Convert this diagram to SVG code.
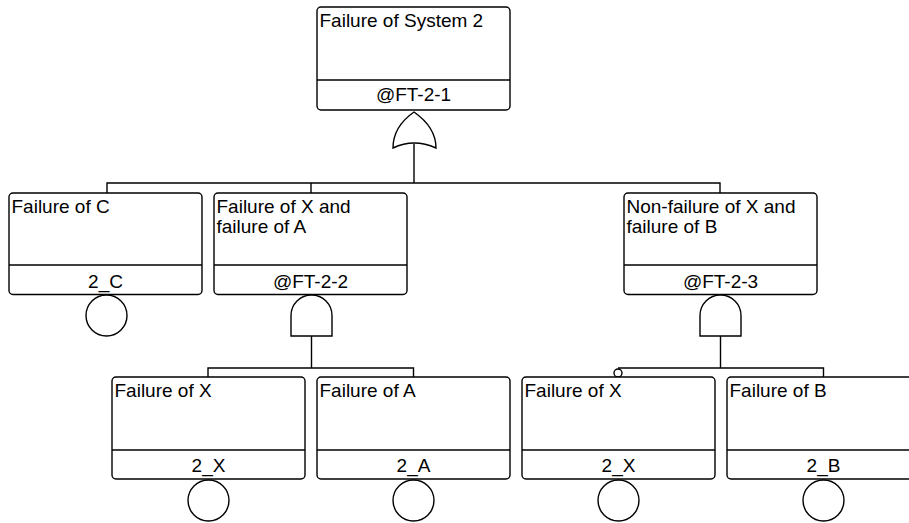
<svg xmlns="http://www.w3.org/2000/svg" width="909" height="523" viewBox="0 0 909 523">
<style>
.box{fill:#fff;stroke:#000;stroke-width:1.4}
.div{stroke:#000;stroke-width:1.4}
.gate{fill:#fff;stroke:#000;stroke-width:1.4}
.ev{fill:#fff;stroke:#000;stroke-width:1.4}
.ln{fill:none;stroke:#000;stroke-width:1.4}
text{font-family:"Liberation Sans",Arial,sans-serif;font-size:19px;fill:#000}
.c{text-anchor:middle}
</style>
<rect width="909" height="523" fill="#fff"/>
<g id="connectors">
<path class="ln" d="M414,144 V183 M107,193 V183 H720 V193 M311,183 V193"/>
<path class="ln" d="M311.5,336 V368 M208,377 V368 H413.5 V377"/>
<path class="ln" d="M720.5,336 V368 M618,368 H823.5 V377"/>
<circle cx="618" cy="373" r="4" fill="#fff" stroke="#000" stroke-width="1.4"/>
</g>
<g id="n1">
<rect class="box" x="317" y="7" width="193" height="103" rx="4"/>
<line class="div" x1="317" y1="80" x2="510" y2="80"/>
<text x="319.5" y="27">Failure of System 2</text>
<text class="c" x="413.5" y="101">@FT-2-1</text>
<path class="gate" d="M393,148 C393,130 404,119 414,112 C424,119 436,130 436,148 Q414,138 393,148 Z"/>
</g>
<g id="n2">
<rect class="box" x="9" y="193" width="193" height="101.5" rx="4"/>
<line class="div" x1="9" y1="265" x2="202" y2="265"/>
<text x="11.5" y="213">Failure of C</text>
<text class="c" x="105.5" y="288">2_C</text>
<circle class="ev" cx="106.5" cy="315.5" r="20.5"/>
</g>
<g id="n3">
<rect class="box" x="214" y="193" width="193" height="101.5" rx="4"/>
<line class="div" x1="214" y1="265" x2="407" y2="265"/>
<text x="216.5" y="213">Failure of X and</text>
<text x="216.5" y="233">failure of A</text>
<text class="c" x="310.5" y="288">@FT-2-2</text>
<path class="gate" d="M291,336 V315.5 A20.5,20.5 0 0 1 332,315.5 V336 Z"/>
</g>
<g id="n4">
<rect class="box" x="624" y="193" width="193" height="101.5" rx="4"/>
<line class="div" x1="624" y1="265" x2="817" y2="265"/>
<text x="626.5" y="213">Non-failure of X and</text>
<text x="626.5" y="233">failure of B</text>
<text class="c" x="720.5" y="288">@FT-2-3</text>
<path class="gate" d="M700,336 V315.5 A20.5,20.5 0 0 1 741,315.5 V336 Z"/>
</g>
<g id="n5">
<rect class="box" x="112" y="377" width="193" height="102" rx="4"/>
<line class="div" x1="112" y1="450" x2="305" y2="450"/>
<text x="114.5" y="397">Failure of X</text>
<text class="c" x="208.5" y="471.5">2_X</text>
<circle class="ev" cx="208.5" cy="500.5" r="20.5"/>
</g>
<g id="n6">
<rect class="box" x="317" y="377" width="193" height="102" rx="4"/>
<line class="div" x1="317" y1="450" x2="510" y2="450"/>
<text x="319.5" y="397">Failure of A</text>
<text class="c" x="413.5" y="471.5">2_A</text>
<circle class="ev" cx="413.5" cy="500.5" r="20.5"/>
</g>
<g id="n7">
<rect class="box" x="522" y="377" width="193" height="102" rx="4"/>
<line class="div" x1="522" y1="450" x2="715" y2="450"/>
<text x="524.5" y="397">Failure of X</text>
<text class="c" x="618.5" y="471.5">2_X</text>
<circle class="ev" cx="618.5" cy="500.5" r="20.5"/>
</g>
<g id="n8">
<rect class="box" x="727" y="377" width="193" height="102" rx="4"/>
<line class="div" x1="727" y1="450" x2="920" y2="450"/>
<text x="729.5" y="397">Failure of B</text>
<text class="c" x="823.5" y="471.5">2_B</text>
<circle class="ev" cx="823.5" cy="500.5" r="20.5"/>
</g>
</svg>
